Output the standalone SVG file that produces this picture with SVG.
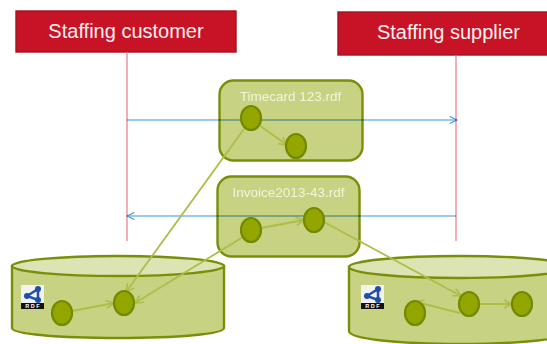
<svg xmlns="http://www.w3.org/2000/svg" width="547" height="344" viewBox="0 0 547 344">
<defs>
<style>
text{font-family:"Liberation Sans",Arial,sans-serif}
.actor{fill:#c81326;stroke:#a5121f;stroke-width:1.4}
.actor-t{fill:#fdf0f0;font-size:20px;text-anchor:middle}
.life{stroke:#ea7a8c;stroke-width:1.2;fill:none}
.box{fill:#c8d283;stroke:#7b8e0a;stroke-width:2.4}
.box-t{fill:#f1f5dc;font-size:13.5px;text-anchor:middle}
.cyl{fill:#c8d283;stroke:#7b8e0a;stroke-width:2.4}
.top{fill:#dde4b3;stroke:#7b8e0a;stroke-width:2.4}
.dot{fill:#93a600;stroke:#748800;stroke-width:2.2}
.msg{stroke:#3a96de;stroke-width:1.2;fill:none;mix-blend-mode:multiply}
.link{stroke:#adbe48;stroke-width:1.9;fill:none;marker-end:url(#g)}
</style>
<marker id="g" viewBox="0 0 10 10" refX="9" refY="5" markerWidth="10" markerHeight="10" markerUnits="userSpaceOnUse" orient="auto"><path d="M1 1L9 5L1 9" fill="none" stroke="#adbe48" stroke-width="1.6"/></marker>
<marker id="b" viewBox="0 0 10 10" refX="9" refY="5" markerWidth="9" markerHeight="9" markerUnits="userSpaceOnUse" orient="auto"><path d="M1 1L9 5L1 9" fill="none" stroke="#3a96de" stroke-width="1.2"/></marker>
<g id="rdf">
<rect width="23" height="24" fill="#f2f2f2"/>
<rect y="18" width="23" height="6" fill="#111"/>
<path d="M6 11L17 4L17 15Z" fill="none" stroke="#1f4fa8" stroke-width="2.5"/>
<circle cx="6" cy="11" r="3" fill="#1f4fa8"/><circle cx="17" cy="4" r="3" fill="#1f4fa8"/><circle cx="17" cy="15" r="3" fill="#1f4fa8"/>
<text x="11.5" y="23" font-size="5.5" font-weight="bold" fill="#fff" text-anchor="middle" xml:space="preserve">R D F</text>
</g>
</defs>
<g id="customer"><rect class="actor" x="16" y="11" width="220" height="41"/><text class="actor-t" x="126" y="38">Staffing customer</text></g>
<g id="supplier"><rect class="actor" x="338" y="12" width="212" height="43"/><text class="actor-t" x="448.500" y="39">Staffing supplier</text></g>
<g id="store-customer"><path class="cyl" d="M12 266V328C12 334 59 338 118 338S224 334 224 328V266Z"/><ellipse class="top" cx="118" cy="266" rx="106" ry="10"/><use href="#rdf" x="21" y="285"/></g>
<g id="store-supplier"><path class="cyl" d="M349 267V331C349 339 400 344 460 344S571 339 571 331V267Z"/><ellipse class="top" cx="460" cy="267" rx="111" ry="11"/><use href="#rdf" x="361" y="285"/></g>
<g id="timecard"><rect class="box" x="219.500" y="80.500" width="143" height="80" rx="14"/><text class="box-t" x="290.500" y="101">Timecard 123.rdf</text></g>
<g id="invoice"><rect class="box" x="217.500" y="176.500" width="142" height="80" rx="14"/><text class="box-t" x="288.500" y="197">Invoice2013-43.rdf</text></g>
<g id="connectors">
<path class="life" d="M127 52V241M456 55V241"/>
<path class="msg" marker-end="url(#b)" d="M127 120H457"/>
<path class="msg" marker-end="url(#b)" d="M456 216H127"/>
<path class="link" d="M259 125L287 145"/>
<path class="link" d="M244 129L126 292"/>
<path class="link" d="M243 237L135 303"/>
<path class="link" d="M261 228L304 220"/>
<path class="link" d="M324 222L461 296"/>
<path class="link" d="M72 311L114 303"/>
<path class="link" d="M460 313L416 302"/>
<path class="link" d="M479 304H512"/>
</g>
<g id="n1"><ellipse class="dot" cx="251" cy="118" rx="10" ry="12"/></g>
<g id="n2"><ellipse class="dot" cx="296" cy="146" rx="10" ry="12"/></g>
<g id="n3"><ellipse class="dot" cx="251" cy="230" rx="10" ry="12"/></g>
<g id="n4"><ellipse class="dot" cx="314" cy="220" rx="10" ry="12"/></g>
<g id="n5"><ellipse class="dot" cx="62" cy="313" rx="10" ry="12"/></g>
<g id="n6"><ellipse class="dot" cx="124" cy="303" rx="10" ry="12"/></g>
<g id="n7"><ellipse class="dot" cx="415" cy="313" rx="10" ry="12"/></g>
<g id="n8"><ellipse class="dot" cx="469" cy="304" rx="10" ry="12"/></g>
<g id="n9"><ellipse class="dot" cx="522" cy="304" rx="10" ry="12"/></g>
</svg>
